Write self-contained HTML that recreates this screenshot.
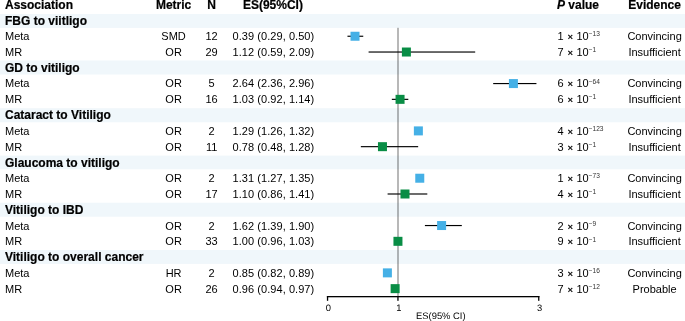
<!DOCTYPE html><html><head><meta charset="utf-8"><style>
*{margin:0;padding:0;box-sizing:border-box}
html,body{width:685px;height:321px;overflow:hidden;background:#fff}
body{position:relative;font-family:"Liberation Sans",sans-serif;color:#000}
#w{position:absolute;left:0;top:0;width:685px;height:321px;background:#fff;overflow:hidden;will-change:transform}
.band{position:absolute;left:0;width:685px;height:14px;background:#F0F7FB}
.t{position:absolute;line-height:0;white-space:nowrap;font-size:11px}
.b{font-weight:bold;font-size:12px;color:#000;-webkit-text-stroke:0.2px #000}
.c{transform:translateX(-50%)}
.sup{font-size:6.6px;position:relative;top:-4.3px;color:#333}
.ax{position:absolute;line-height:0;text-rendering:geometricPrecision;white-space:nowrap;font-size:9.4px;transform:translateX(-50%);color:#000}
svg{position:absolute;left:0;top:0}
</style></head><body><div id="w">
<svg width="685" height="321" viewBox="0 0 685 321"><rect x="0" y="14.0" width="685" height="13.90" fill="#F0F7FB"/><rect x="0" y="60.45" width="685" height="14.05" fill="#F0F7FB"/><rect x="0" y="108.2" width="685" height="14.10" fill="#F0F7FB"/><rect x="0" y="155.6" width="685" height="13.70" fill="#F0F7FB"/><rect x="0" y="202.7" width="685" height="14.00" fill="#F0F7FB"/><rect x="0" y="250.05" width="685" height="13.85" fill="#F0F7FB"/><rect x="397.00" y="27.80" width="2" height="268.85" fill="rgba(0,0,0,0.28)"/><rect x="347.47" y="35.67" width="15.78" height="1.15" fill="#000"/><rect x="350.51" y="31.75" width="9" height="9" fill="#45B0E6"/><rect x="368.59" y="51.45" width="106.60" height="1.15" fill="#000"/><rect x="401.90" y="47.52" width="9" height="9" fill="#098D45"/><rect x="493.19" y="82.99" width="43.24" height="1.15" fill="#000"/><rect x="508.91" y="79.07" width="9" height="9" fill="#45B0E6"/><rect x="391.82" y="98.77" width="16.49" height="1.15" fill="#000"/><rect x="395.56" y="94.84" width="9" height="9" fill="#098D45"/><rect x="415.75" y="130.32" width="5.22" height="1.15" fill="#000"/><rect x="413.87" y="126.40" width="9" height="9" fill="#45B0E6"/><rect x="360.84" y="146.09" width="57.32" height="1.15" fill="#000"/><rect x="377.96" y="142.17" width="9" height="9" fill="#098D45"/><rect x="416.46" y="177.65" width="6.63" height="1.15" fill="#000"/><rect x="415.27" y="173.72" width="9" height="9" fill="#45B0E6"/><rect x="387.59" y="193.42" width="39.72" height="1.15" fill="#000"/><rect x="400.49" y="189.50" width="9" height="9" fill="#098D45"/><rect x="424.91" y="224.97" width="36.90" height="1.15" fill="#000"/><rect x="437.10" y="221.04" width="9" height="9" fill="#45B0E6"/><rect x="394.63" y="240.75" width="5.93" height="1.15" fill="#000"/><rect x="393.45" y="236.82" width="9" height="9" fill="#098D45"/><rect x="384.78" y="272.30" width="5.93" height="1.15" fill="#000"/><rect x="382.89" y="268.37" width="9" height="9" fill="#45B0E6"/><rect x="393.23" y="288.07" width="3.11" height="1.15" fill="#000"/><rect x="390.63" y="284.14" width="9" height="9" fill="#098D45"/><rect x="326.90" y="296.00" width="212.50" height="1.3" fill="#000"/><rect x="326.90" y="296.00" width="1.3" height="4.80" fill="#000"/><rect x="397.30" y="296.00" width="1.3" height="4.80" fill="#000"/><rect x="538.10" y="296.00" width="1.3" height="4.80" fill="#000"/></svg>
<div class="t b" style="left:5.00px;top:5.00px">Association</div>
<div class="t b c" style="left:173.60px;top:5.00px">Metric</div>
<div class="t b c" style="left:211.60px;top:5.00px">N</div>
<div class="t b c" style="left:272.90px;top:5.00px">ES(95%CI)</div>
<div class="t b" style="left:557.00px;top:5.00px"><i>P</i> value</div>
<div class="t b c" style="left:654.60px;top:5.00px">Evidence</div>
<div class="t b" style="left:5.00px;top:21.00px">FBG to viitligo</div>
<div class="t" style="left:5.00px;top:36.00px">Meta</div>
<div class="t c" style="left:173.60px;top:36.00px">SMD</div>
<div class="t c" style="left:211.60px;top:36.00px">12</div>
<div class="t c" style="left:273.40px;top:36.00px"><span style="letter-spacing:0.06px">0.39 (0.29, 0.50)</span></div>
<div class="t" style="left:557.40px;top:36.00px">1 <span style="margin-left:0.8px;margin-right:0.4px;-webkit-text-stroke:0.3px #000;font-size:9.5px;position:relative;top:0px">×</span> 10<span class="sup" style="top:-4.3px">−13</span></div>
<div class="t c" style="left:654.60px;top:36.00px">Convincing</div>
<div class="t" style="left:5.00px;top:52.00px">MR</div>
<div class="t c" style="left:173.60px;top:52.00px">OR</div>
<div class="t c" style="left:211.60px;top:52.00px">29</div>
<div class="t c" style="left:273.40px;top:52.00px"><span style="letter-spacing:0.06px">1.12 (0.59, 2.09)</span></div>
<div class="t" style="left:557.40px;top:52.00px">7 <span style="margin-left:0.8px;margin-right:0.4px;-webkit-text-stroke:0.3px #000;font-size:9.5px;position:relative;top:0px">×</span> 10<span class="sup" style="top:-4.3px">−1</span></div>
<div class="t c" style="left:654.60px;top:52.00px">Insufficient</div>
<div class="t b" style="left:5.00px;top:68.00px">GD to vitiligo</div>
<div class="t" style="left:5.00px;top:83.00px">Meta</div>
<div class="t c" style="left:173.60px;top:83.00px">OR</div>
<div class="t c" style="left:211.60px;top:83.00px">5</div>
<div class="t c" style="left:273.40px;top:83.00px"><span style="letter-spacing:0.06px">2.64 (2.36, 2.96)</span></div>
<div class="t" style="left:557.40px;top:83.00px">6 <span style="margin-left:0.8px;margin-right:0.4px;-webkit-text-stroke:0.3px #000;font-size:9.5px;position:relative;top:0px">×</span> 10<span class="sup" style="top:-3px">−64</span></div>
<div class="t c" style="left:654.60px;top:83.00px">Convincing</div>
<div class="t" style="left:5.00px;top:99.00px">MR</div>
<div class="t c" style="left:173.60px;top:99.00px">OR</div>
<div class="t c" style="left:211.60px;top:99.00px">16</div>
<div class="t c" style="left:273.40px;top:99.00px"><span style="letter-spacing:0.06px">1.03 (0.92, 1.14)</span></div>
<div class="t" style="left:557.40px;top:99.00px">6 <span style="margin-left:0.8px;margin-right:0.4px;-webkit-text-stroke:0.3px #000;font-size:9.5px;position:relative;top:0px">×</span> 10<span class="sup" style="top:-4.3px">−1</span></div>
<div class="t c" style="left:654.60px;top:99.00px">Insufficient</div>
<div class="t b" style="left:5.00px;top:115.00px">Cataract to Vitiligo</div>
<div class="t" style="left:5.00px;top:131.00px">Meta</div>
<div class="t c" style="left:173.60px;top:131.00px">OR</div>
<div class="t c" style="left:211.60px;top:131.00px">2</div>
<div class="t c" style="left:273.40px;top:131.00px"><span style="letter-spacing:0.06px">1.29 (1.26, 1.32)</span></div>
<div class="t" style="left:557.40px;top:131.00px">4 <span style="margin-left:0.8px;margin-right:0.4px;-webkit-text-stroke:0.3px #000;font-size:9.5px;position:relative;top:0px">×</span> 10<span class="sup" style="top:-4.3px">−123</span></div>
<div class="t c" style="left:654.60px;top:131.00px">Convincing</div>
<div class="t" style="left:5.00px;top:147.00px">MR</div>
<div class="t c" style="left:173.60px;top:147.00px">OR</div>
<div class="t c" style="left:211.60px;top:147.00px">11</div>
<div class="t c" style="left:273.40px;top:147.00px"><span style="letter-spacing:0.06px">0.78 (0.48, 1.28)</span></div>
<div class="t" style="left:557.40px;top:147.00px">3 <span style="margin-left:0.8px;margin-right:0.4px;-webkit-text-stroke:0.3px #000;font-size:9.5px;position:relative;top:0px">×</span> 10<span class="sup" style="top:-4.3px">−1</span></div>
<div class="t c" style="left:654.60px;top:147.00px">Insufficient</div>
<div class="t b" style="left:5.00px;top:163.00px">Glaucoma to vitiligo</div>
<div class="t" style="left:5.00px;top:178.00px">Meta</div>
<div class="t c" style="left:173.60px;top:178.00px">OR</div>
<div class="t c" style="left:211.60px;top:178.00px">2</div>
<div class="t c" style="left:273.40px;top:178.00px"><span style="letter-spacing:0.06px">1.31 (1.27, 1.35)</span></div>
<div class="t" style="left:557.40px;top:178.00px">1 <span style="margin-left:0.8px;margin-right:0.4px;-webkit-text-stroke:0.3px #000;font-size:9.5px;position:relative;top:0px">×</span> 10<span class="sup" style="top:-4.3px">−73</span></div>
<div class="t c" style="left:654.60px;top:178.00px">Convincing</div>
<div class="t" style="left:5.00px;top:194.00px">MR</div>
<div class="t c" style="left:173.60px;top:194.00px">OR</div>
<div class="t c" style="left:211.60px;top:194.00px">17</div>
<div class="t c" style="left:273.40px;top:194.00px"><span style="letter-spacing:0.06px">1.10 (0.86, 1.41)</span></div>
<div class="t" style="left:557.40px;top:194.00px">4 <span style="margin-left:0.8px;margin-right:0.4px;-webkit-text-stroke:0.3px #000;font-size:9.5px;position:relative;top:0px">×</span> 10<span class="sup" style="top:-4.3px">−1</span></div>
<div class="t c" style="left:654.60px;top:194.00px">Insufficient</div>
<div class="t b" style="left:5.00px;top:210.00px">Vitiligo to IBD</div>
<div class="t" style="left:5.00px;top:226.00px">Meta</div>
<div class="t c" style="left:173.60px;top:226.00px">OR</div>
<div class="t c" style="left:211.60px;top:226.00px">2</div>
<div class="t c" style="left:273.40px;top:226.00px"><span style="letter-spacing:0.06px">1.62 (1.39, 1.90)</span></div>
<div class="t" style="left:557.40px;top:226.00px">2 <span style="margin-left:0.8px;margin-right:0.4px;-webkit-text-stroke:0.3px #000;font-size:9.5px;position:relative;top:0px">×</span> 10<span class="sup" style="top:-4.3px">−9</span></div>
<div class="t c" style="left:654.60px;top:226.00px">Convincing</div>
<div class="t" style="left:5.00px;top:241.00px">MR</div>
<div class="t c" style="left:173.60px;top:241.00px">OR</div>
<div class="t c" style="left:211.60px;top:241.00px">33</div>
<div class="t c" style="left:273.40px;top:241.00px"><span style="letter-spacing:0.06px">1.00 (0.96, 1.03)</span></div>
<div class="t" style="left:557.40px;top:241.00px">9 <span style="margin-left:0.8px;margin-right:0.4px;-webkit-text-stroke:0.3px #000;font-size:9.5px;position:relative;top:0px">×</span> 10<span class="sup" style="top:-3px">−1</span></div>
<div class="t c" style="left:654.60px;top:241.00px">Insufficient</div>
<div class="t b" style="left:5.00px;top:257.00px">Vitiligo to overall cancer</div>
<div class="t" style="left:5.00px;top:273.00px">Meta</div>
<div class="t c" style="left:173.60px;top:273.00px">HR</div>
<div class="t c" style="left:211.60px;top:273.00px">2</div>
<div class="t c" style="left:273.40px;top:273.00px"><span style="letter-spacing:0.06px">0.85 (0.82, 0.89)</span></div>
<div class="t" style="left:557.40px;top:273.00px">3 <span style="margin-left:0.8px;margin-right:0.4px;-webkit-text-stroke:0.3px #000;font-size:9.5px;position:relative;top:0px">×</span> 10<span class="sup" style="top:-4.3px">−16</span></div>
<div class="t c" style="left:654.60px;top:273.00px">Convincing</div>
<div class="t" style="left:5.00px;top:289.00px">MR</div>
<div class="t c" style="left:173.60px;top:289.00px">OR</div>
<div class="t c" style="left:211.60px;top:289.00px">26</div>
<div class="t c" style="left:273.40px;top:289.00px"><span style="letter-spacing:0.06px">0.96 (0.94, 0.97)</span></div>
<div class="t" style="left:557.40px;top:289.00px">7 <span style="margin-left:0.8px;margin-right:0.4px;-webkit-text-stroke:0.3px #000;font-size:9.5px;position:relative;top:0px">×</span> 10<span class="sup" style="top:-4.3px">−12</span></div>
<div class="t c" style="left:654.60px;top:289.00px">Probable</div>
<div class="ax" style="left:328.35px;top:307.80px">0</div>
<div class="ax" style="left:398.75px;top:307.80px">1</div>
<div class="ax" style="left:539.55px;top:307.80px">3</div>
<div class="ax" style="left:440.80px;top:315.70px">ES(95% CI)</div>
</div></body></html>
